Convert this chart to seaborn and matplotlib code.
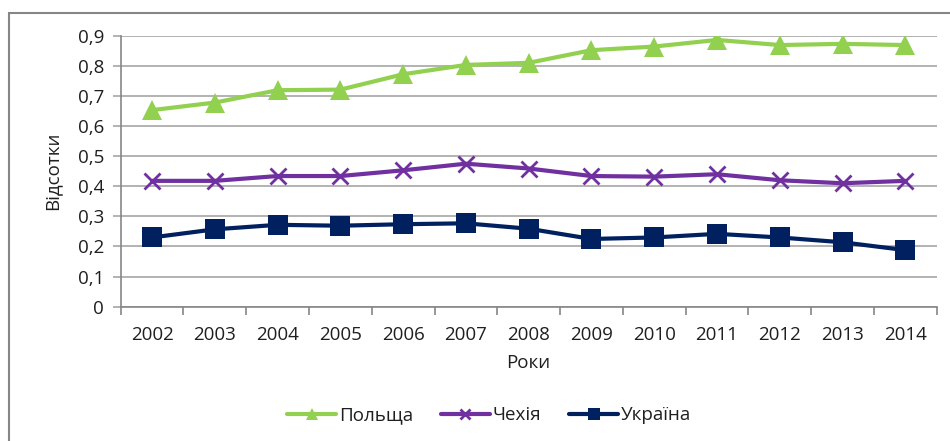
import matplotlib
matplotlib.use("Agg")
import matplotlib.pyplot as plt
import seaborn as sns
import pandas as pd
from matplotlib.patches import Rectangle

years = ["2002", "2003", "2004", "2005", "2006", "2007", "2008",
         "2009", "2010", "2011", "2012", "2013", "2014"]
poland = [0.653, 0.678, 0.719, 0.721, 0.772, 0.803, 0.810,
          0.852, 0.864, 0.886, 0.869, 0.873, 0.869]
czechia = [0.418, 0.418, 0.434, 0.434, 0.453, 0.475, 0.459,
           0.434, 0.432, 0.440, 0.420, 0.410, 0.418]
ukraine = [0.230, 0.257, 0.272, 0.269, 0.274, 0.277, 0.259,
           0.225, 0.230, 0.242, 0.230, 0.214, 0.188]
countries = ["Польща", "Чехія", "Україна"]
y_ticks = [0, 0.1, 0.2, 0.3, 0.4, 0.5, 0.6, 0.7, 0.8, 0.9]

sns.set_style("white")
plt.rcParams['font.family'] = ['Open Sans', 'DejaVu Sans']

df = pd.DataFrame({
    "pos": list(range(len(years))) * 3,
    "value": poland + czechia + ukraine,
    "country": [c for c in countries for _ in years],
})

colors = {"Польща": "#92d050", "Чехія": "#7030a0", "Україна": "#002060"}
markers = {"Польща": "^", "Чехія": "x", "Україна": "s"}
msizes = {"Польща": 14, "Чехія": 12, "Україна": 14}
fs = 13.5
txt = "#1f1f1f"

fig = plt.figure(figsize=(9.5, 4.41), dpi=100)
ax = fig.add_axes([0.127, 0.3045, 0.859, 0.6145])

for c in countries:
    sub = df[df["country"] == c]
    sns.lineplot(data=sub, x="pos", y="value", ax=ax, color=colors[c],
                 marker=markers[c], markersize=msizes[c], linewidth=3,
                 markeredgewidth=2 if c == "Чехія" else 0,
                 markeredgecolor=colors[c], label=c)

ax.set_xlim(-0.5, len(years) - 0.5)
ax.set_ylim(0, 0.9)
ax.set_yticks(y_ticks)
ax.set_yticklabels([("%.1f" % t).replace(".", ",") if t else "0" for t in y_ticks])
ax.yaxis.grid(True, color="#a6a6a6", linewidth=1.2)
ax.set_axisbelow(True)

ax.set_xticks([i - 0.5 for i in range(len(years) + 1)])
ax.set_xticklabels([])
ax.set_xticks(list(range(len(years))), minor=True)
ax.set_xticklabels(years, minor=True)
ax.tick_params(axis="x", which="major", direction="out", length=6,
               color="#868686", width=1.2, bottom=True)
ax.tick_params(axis="x", which="minor", length=0, pad=14, labelsize=fs,
               labelcolor=txt)
ax.tick_params(axis="y", direction="out", length=6, color="#a6a6a6",
               width=1.2, left=True, pad=6, labelsize=fs, labelcolor=txt)

for s in ["top", "right"]:
    ax.spines[s].set_visible(False)
for s in ["left", "bottom"]:
    ax.spines[s].set_color("#868686")
    ax.spines[s].set_linewidth(1.2)

ax.set_xlabel("Роки", fontsize=fs, color=txt, labelpad=7)
ax.set_ylabel("Відсотки", fontsize=fs, color=txt, labelpad=12)

handles, labels = ax.get_legend_handles_labels()
ax.legend(handles, labels, loc="center", bbox_to_anchor=(0.515, 0.058),
          bbox_transform=fig.transFigure, ncol=3, frameon=False,
          fontsize=fs, handlelength=2.6, columnspacing=1.5,
          handletextpad=0.15, markerscale=0.6, labelcolor=txt)

fig.patches.append(Rectangle((9 / 950, -0.1), 1.2, 1 - 13 / 441 + 0.1,
                             transform=fig.transFigure, fill=False,
                             edgecolor="#868686", linewidth=1.5))

fig.savefig("out.png", dpi=100)
